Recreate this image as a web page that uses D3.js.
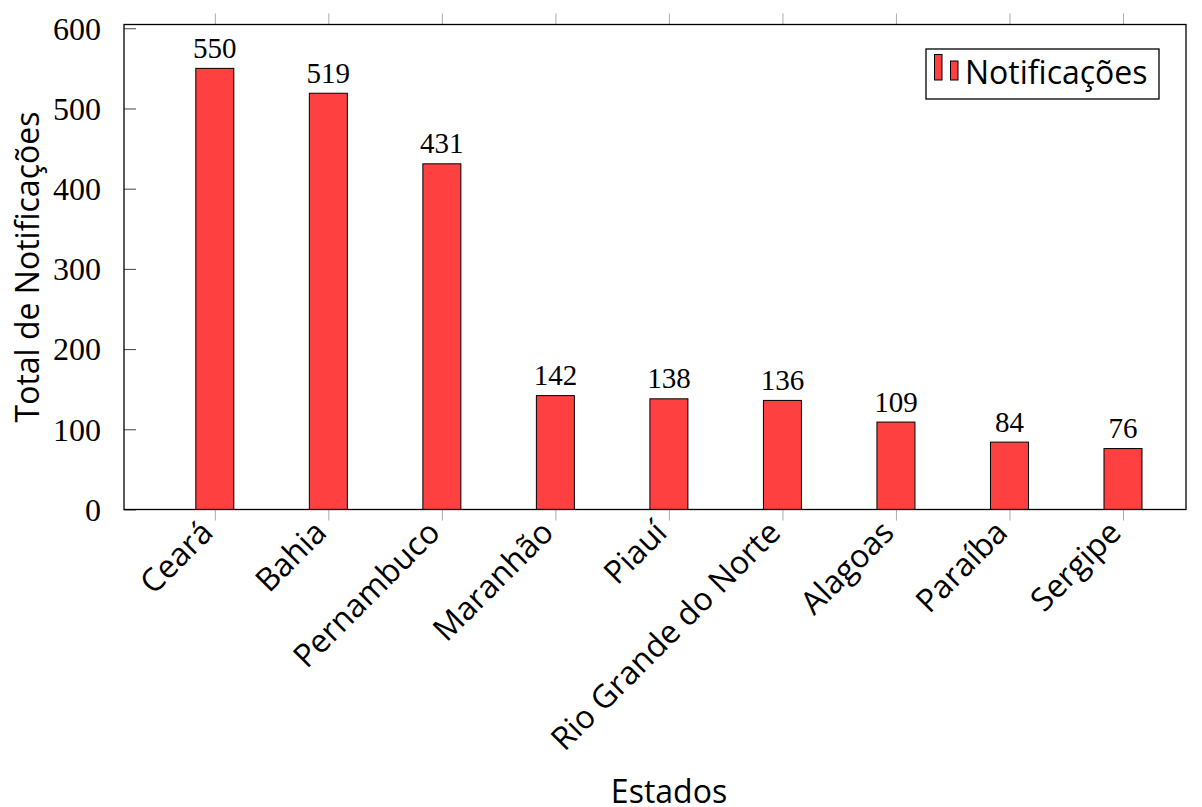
<!DOCTYPE html>
<html>
<head>
<meta charset="utf-8">
<script src="https://cdn.jsdelivr.net/npm/d3@7"></script>
<style>
  html, body { margin: 0; padding: 0; background: #fff; }
  svg { display: block; }
</style>
</head>
<body>
<script>
// Notificações por estado
const estados = ["Ceará", "Bahia", "Pernambuco", "Maranhão", "Piauí",
                 "Rio Grande do Norte", "Alagoas", "Paraíba", "Sergipe"];
const notificacoes = [550, 519, 431, 142, 138, 136, 109, 84, 76];
const yTicks = [0, 100, 200, 300, 400, 500, 600];
const seriesName = "Notificações";

const W = 1202, H = 807;
const plot = { left: 124, right: 1186, top: 24.5, bottom: 509.5 };
const serif = "'Liberation Serif', 'Times New Roman', serif";
const sans = "'Open Sans', 'Noto Sans', sans-serif";
const sansSize = 32;
const barFill = "#ff4040";

const svg = d3.select("body").append("svg")
  .attr("width", W).attr("height", H);

// category index -> x, with pgfplots-like asymmetric padding
const x = d3.scaleLinear().domain([-0.8, 8.555]).range([plot.left, plot.right]);
const y = d3.scaleLinear().domain([0, 604.7]).range([plot.bottom, plot.top]);
const barW = 38;

// bars
svg.append("g").selectAll("rect")
  .data(notificacoes)
  .join("rect")
  .attr("x", (d, i) => x(i) - barW / 2)
  .attr("y", d => y(d))
  .attr("width", barW)
  .attr("height", d => y(0) - y(d))
  .attr("fill", barFill)
  .attr("stroke", "#000")
  .attr("stroke-width", 1);

// value labels
svg.append("g").selectAll("text")
  .data(notificacoes)
  .join("text")
  .attr("x", (d, i) => x(i))
  .attr("y", d => y(d) - 10.5)
  .attr("text-anchor", "middle")
  .attr("font-family", serif)
  .attr("font-size", 29)
  .attr("fill", "#000")
  .text(d => d);

// y axis (ticks pointing into the plot)
const yAxis = d3.axisLeft(y).tickValues(yTicks).tickSize(-12).tickPadding(23);
const gy = svg.append("g").attr("transform", `translate(${plot.left},0)`).call(yAxis);
gy.select(".domain").remove();
gy.selectAll(".tick line").attr("stroke", "#444").attr("stroke-width", 1);
gy.selectAll(".tick text")
  .attr("font-family", serif).attr("font-size", 32).attr("fill", "#000")
  .attr("dy", "0.34em");

// x axis: ticks below the plot and above it
const idx = d3.range(estados.length);
const xAxisB = d3.axisBottom(x).tickValues(idx).tickSize(11).tickFormat("");
const gxb = svg.append("g").attr("transform", `translate(0,${plot.bottom})`).call(xAxisB);
gxb.select(".domain").remove();
gxb.selectAll(".tick line").attr("stroke", "#aaa");

const xAxisT = d3.axisTop(x).tickValues(idx).tickSize(11).tickFormat("");
const gxt = svg.append("g").attr("transform", `translate(0,${plot.top})`).call(xAxisT);
gxt.select(".domain").remove();
gxt.selectAll(".tick line").attr("stroke", "#aaa");

// rotated category labels
svg.append("g").selectAll("text")
  .data(estados)
  .join("text")
  .attr("transform", (d, i) => `translate(${x(i) - 8},${plot.bottom + 17}) rotate(-45)`)
  .attr("text-anchor", "end")
  .attr("dy", "0.35em")
  .attr("font-family", sans)
  .attr("font-size", sansSize)
  .attr("fill", "#000")
  .text(d => d);

// plot frame
svg.append("rect")
  .attr("x", plot.left).attr("y", plot.top)
  .attr("width", plot.right - plot.left).attr("height", plot.bottom - plot.top)
  .attr("fill", "none").attr("stroke", "#000").attr("stroke-width", 1.3);

// axis titles
svg.append("text")
  .attr("x", 669).attr("y", 803)
  .attr("text-anchor", "middle")
  .attr("font-family", sans).attr("font-size", sansSize).attr("fill", "#000")
  .text("Estados");

svg.append("text")
  .attr("transform", `translate(39,${267}) rotate(-90)`)
  .attr("text-anchor", "middle")
  .attr("font-family", sans).attr("font-size", sansSize).attr("fill", "#000")
  .text("Total de Notificações");

// legend
const lg = svg.append("g");
lg.append("rect")
  .attr("x", 926).attr("y", 49).attr("width", 233).attr("height", 50)
  .attr("fill", "#fff").attr("stroke", "#000").attr("stroke-width", 1.3);
lg.append("rect").attr("x", 934.5).attr("y", 54.5).attr("width", 7.5).attr("height", 25.5)
  .attr("fill", barFill).attr("stroke", "#000").attr("stroke-width", 1);
lg.append("rect").attr("x", 950.5).attr("y", 61).attr("width", 7.5).attr("height", 19)
  .attr("fill", barFill).attr("stroke", "#000").attr("stroke-width", 1);
lg.append("text")
  .attr("x", 965).attr("y", 84)
  .attr("font-family", sans).attr("font-size", sansSize).attr("fill", "#000")
  .text(seriesName);
</script>
</body>
</html>
